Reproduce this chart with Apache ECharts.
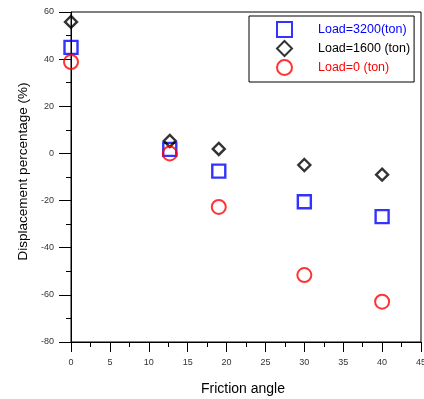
<!DOCTYPE html>
<html>
<head>
<meta charset="utf-8">
<script src="https://cdn.jsdelivr.net/npm/echarts@6/dist/echarts.min.js"></script>
<style>
  html, body { margin: 0; padding: 0; background: #fff; }
  #chart { width: 424px; height: 399px; }
</style>
</head>
<body>
<div id="chart"></div>
<script>
// Friction angle (degrees) at which each case was evaluated
const frictionAngles = [0, 12.7, 19, 30, 40];

// Displacement percentage (%) for each load case
const load3200 = [45, 1.7, -7.5, -20.5, -26.8];
const load1600 = [55.8, 5.3, 1.9, -4.9, -9];
const load0 = [38.8, 0, -22.7, -51.6, -62.9];

const seriesNames = ['Load=3200(ton)', 'Load=1600 (ton)', 'Load=0 (ton)'];

const xTicks = { min: 0, max: 45, interval: 5 };
const yTicks = { min: -80, max: 60, interval: 20 };

const pairs = (ys) => frictionAngles.map((x, i) => [x, ys[i]]);
const font = '"Liberation Sans", Arial, sans-serif';

const chart = echarts.init(document.getElementById('chart'), null, { renderer: 'canvas' });

chart.setOption({
  animation: false,
  backgroundColor: '#fff',
  grid: {
    left: 71, top: 12, right: 3, bottom: 57,
    containLabel: false,
    outerBoundsMode: 'none',
    show: true, borderColor: '#000', borderWidth: 1, backgroundColor: 'transparent'
  },
  legend: {
    left: 249, top: 16,
    orient: 'vertical',
    borderColor: '#000', borderWidth: 1,
    padding: [5, 4, 6, 27],
    itemGap: 2,
    itemWidth: 15, itemHeight: 15,
    data: [
      { name: seriesNames[0], textStyle: { color: '#0000ff' } },
      { name: seriesNames[1], textStyle: { color: '#000000' } },
      { name: seriesNames[2], textStyle: { color: '#ff0000' } }
    ],
    textStyle: { fontFamily: font, fontSize: 12.5, padding: [0, 0, 0, 21] }
  },
  xAxis: {
    type: 'value',
    min: xTicks.min, max: xTicks.max, interval: xTicks.interval,
    name: 'Friction angle',
    nameLocation: 'middle',
    nameGap: 40,
    nameTextStyle: { fontFamily: font, fontSize: 14, color: '#000', padding: [0, 6, 0, 0] },
    axisLine: { show: true, onZero: false, lineStyle: { color: '#000', width: 1 } },
    axisTick: { show: true, inside: false, length: 10, lineStyle: { color: '#000', width: 1 } },
    minorTick: { show: true, splitNumber: 2, length: 5, lineStyle: { color: '#000', width: 1 } },
    axisLabel: { fontFamily: font, fontSize: 9, color: '#333', margin: 16, showMaxLabel: true },
    splitLine: { show: false }
  },
  yAxis: {
    type: 'value',
    min: yTicks.min, max: yTicks.max, interval: yTicks.interval,
    name: 'Displacement percentage (%)',
    nameLocation: 'middle',
    nameGap: 36,
    nameRotate: 90,
    nameTextStyle: { fontFamily: font, fontSize: 13.5, color: '#000', padding: [0, 0, 0, 11] },
    axisLine: { show: true, onZero: false, lineStyle: { color: '#000', width: 1 } },
    axisTick: { show: true, inside: false, length: 12, lineStyle: { color: '#000', width: 1 } },
    minorTick: { show: true, splitNumber: 2, length: 5, lineStyle: { color: '#000', width: 1 } },
    axisLabel: { fontFamily: font, fontSize: 9, color: '#333', margin: 17 },
    splitLine: { show: false }
  },
  series: [
    {
      name: seriesNames[0], type: 'scatter', symbol: 'rect', symbolSize: 13,
      itemStyle: { color: 'rgba(0,0,0,0)', borderColor: '#0000ff', borderWidth: 2.4 },
      data: pairs(load3200), z: 3
    },
    {
      name: seriesNames[1], type: 'scatter', symbol: 'diamond', symbolSize: [12, 12],
      itemStyle: { color: 'rgba(0,0,0,0)', borderColor: '#000000', borderWidth: 2.4 },
      data: pairs(load1600), z: 4
    },
    {
      name: seriesNames[2], type: 'scatter', symbol: 'circle', symbolSize: 14,
      itemStyle: { color: 'rgba(0,0,0,0)', borderColor: '#ff0000', borderWidth: 2 },
      data: pairs(load0), z: 5
    }
  ]
});
</script>
</body>
</html>
